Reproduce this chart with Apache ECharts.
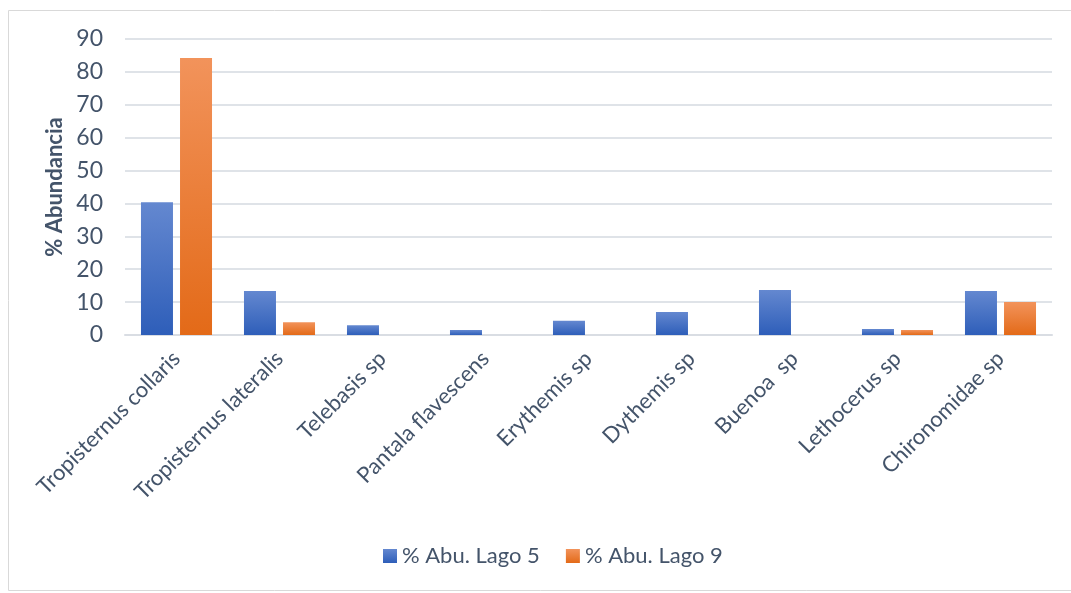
<!DOCTYPE html>
<html><head><meta charset="utf-8">
<script src="https://cdn.jsdelivr.net/npm/echarts@6/dist/echarts.min.js"></script>
<style>html,body{margin:0;padding:0;background:#fff}#c{width:1071px;height:593px}</style>
</head><body><div id="c"></div>
<script>
const categories = ["Tropisternus collaris","Tropisternus lateralis","Telebasis sp","Pantala flavescens","Erythemis sp","Dythemis sp","Buenoa  sp","Lethocerus sp","Chironomidae sp"];
const lago5 = [40.4, 13.4, 3.0, 1.5, 4.3, 7.0, 13.7, 1.8, 13.4];
const lago9 = [84.2, 3.9, 0, 0, 0, 0, 0, 1.5, 10.0];
const seriesNames = ["% Abu. Lago 5", "% Abu. Lago 9"];
const yTicks = {min: 0, max: 90, interval: 10};

const font = 'Lato, "Open Sans", sans-serif';
const txt = '#44546a';
const chart = echarts.init(document.getElementById('c'));
const grad = (a, b) => new echarts.graphic.LinearGradient(0, 0, 0, 1, [{offset: 0, color: a}, {offset: 1, color: b}]);
chart.setOption({
  animation: false,
  graphic: [{type: 'rect', shape: {x: 8.5, y: 10.5, width: 1070, height: 580}, style: {fill: 'none', stroke: '#d9d9d9', lineWidth: 1}}],
  grid: {left: 125, right: 19, top: 39, bottom: 258},
  legend: {
    bottom: 21, left: 378, itemWidth: 14, itemHeight: 14, itemGap: 26,
    textStyle: {color: txt, fontSize: 22, fontFamily: font},
    data: seriesNames.map(n => ({name: n, icon: 'rect'}))
  },
  xAxis: {
    type: 'category', data: categories,
    axisLine: {lineStyle: {color: '#d9dde3', width: 2}},
    axisTick: {show: false},
    axisLabel: {rotate: 45, color: txt, fontSize: 22, fontFamily: font, margin: 20, interval: 0}
  },
  yAxis: {
    type: 'value', min: yTicks.min, max: yTicks.max, interval: yTicks.interval,
    name: '% Abundancia', nameLocation: 'middle', nameGap: 56,
    nameTextStyle: {color: txt, fontSize: 22, fontWeight: 'bold', fontFamily: font},
    axisLabel: {color: txt, fontSize: 23, fontFamily: font, margin: 22},
    axisLine: {show: false}, axisTick: {show: false},
    splitLine: {lineStyle: {color: '#dfe3e8', width: 2}}
  },
  series: [
    {name: seriesNames[0], type: 'bar', data: lago5, barWidth: 32, barGap: '22%',
     itemStyle: {color: grad('#6488d0', '#2e5eb9')}},
    {name: seriesNames[1], type: 'bar', data: lago9, barWidth: 32,
     itemStyle: {color: grad('#f2935b', '#e36a18')}}
  ]
});
</script></body></html>
